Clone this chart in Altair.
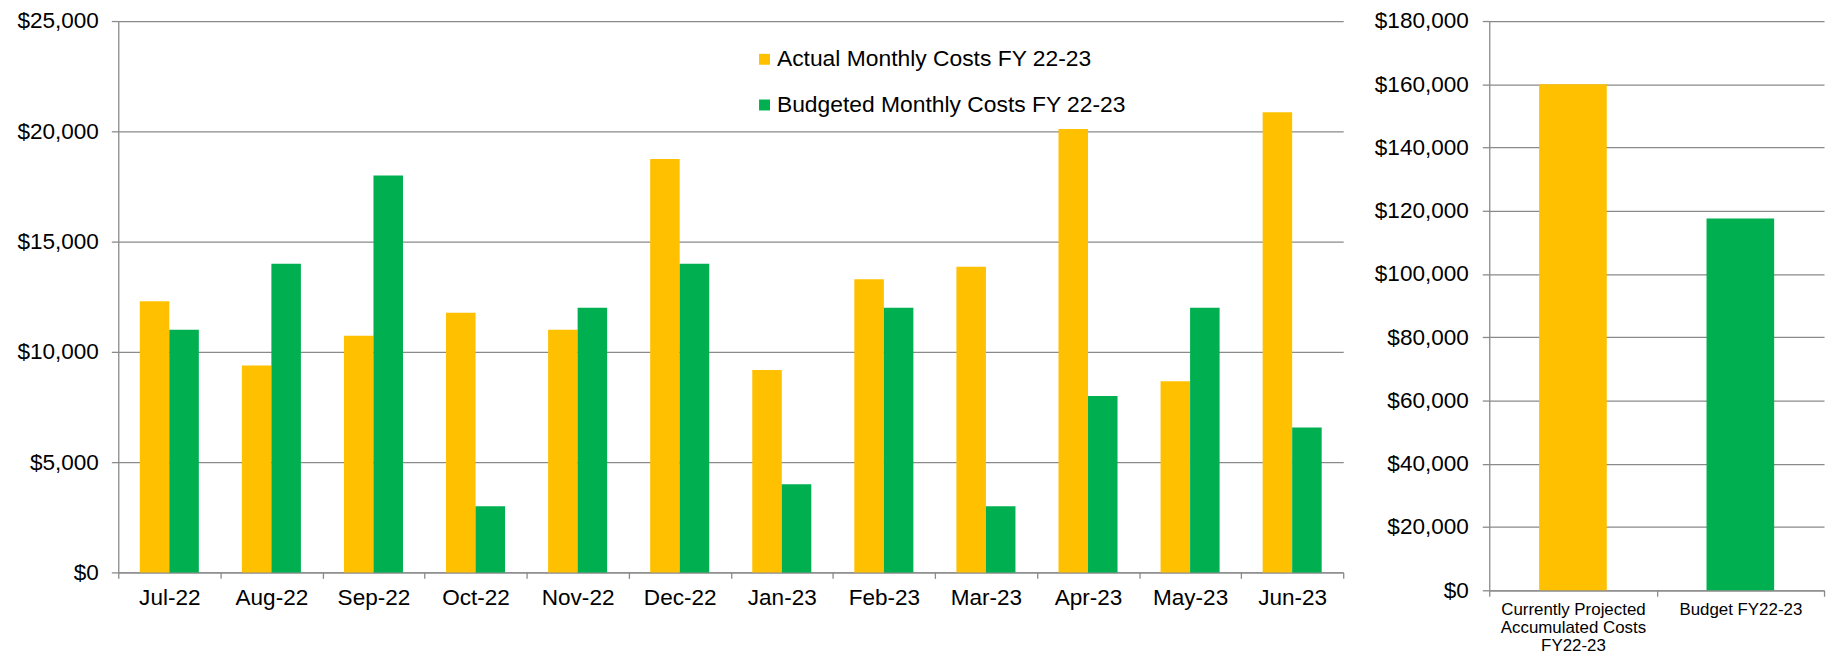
import altair as alt
import pandas as pd

months = ["Jul-22", "Aug-22", "Sep-22", "Oct-22", "Nov-22", "Dec-22",
          "Jan-23", "Feb-23", "Mar-23", "Apr-23", "May-23", "Jun-23"]
actual = [12300, 9380, 10730, 11770, 11000, 18750, 9180, 13290, 13860, 20100, 8670, 20860]
budget = [11000, 14000, 18000, 3000, 12000, 14000, 4000, 12000, 3000, 8000, 12000, 6570]
series_names = ["Actual Monthly Costs FY 22-23", "Budgeted Monthly Costs FY 22-23"]
left_ticks = [0, 5000, 10000, 15000, 20000, 25000]

summary_labels = ["Currently Projected\nAccumulated Costs\nFY22-23", "Budget FY22-23"]
summary_values = [160000, 117570]
right_ticks = [0, 20000, 40000, 60000, 80000, 100000, 120000, 140000, 160000, 180000]

colors = ["#FFC000", "#00B050"]
GRID = "#8a8a8a"
FONT = "Liberation Sans"
FS = 22.7

df = pd.DataFrame({
    "month": months * 2,
    "series": [series_names[0]] * len(months) + [series_names[1]] * len(months),
    "value": actual + budget,
})

left = alt.Chart(df).mark_bar().encode(
    x=alt.X("month:N", sort=months,
            scale=alt.Scale(paddingInner=0, paddingOuter=0),
            axis=alt.Axis(title=None, labelAngle=0, tickBand="extent", grid=False,
                          tickSize=6, labelPadding=8, labelFontSize=FS)),
    xOffset=alt.XOffset("series:N", sort=series_names,
                        scale=alt.Scale(paddingInner=0, paddingOuter=0.729)),
    y=alt.Y("value:Q", scale=alt.Scale(domain=[0, 25000], nice=False),
            axis=alt.Axis(title=None, values=left_ticks, format="$,.0f", grid=True,
                          tickSize=7, labelPadding=13, labelFontSize=FS)),
    color=alt.Color("series:N", sort=series_names,
                    scale=alt.Scale(domain=series_names, range=colors),
                    legend=alt.Legend(title=None, orient="none", legendX=639, legendY=27,
                                      direction="vertical", symbolType="square",
                                      symbolSize=121, symbolStrokeWidth=0,
                                      labelFontSize=23, labelFont=FONT, labelColor="#000",
                                      labelOffset=1, rowPadding=22, padding=0,
                                      labelLimit=600)),
).properties(width=1233, height=555)

df2 = pd.DataFrame({"item": summary_labels, "value": summary_values})

right = alt.Chart(df2).mark_bar(width=alt.RelativeBandSize(0.404)).encode(
    x=alt.X("item:N", sort=summary_labels,
            scale=alt.Scale(paddingInner=0, paddingOuter=0),
            axis=alt.Axis(title=None, labelAngle=0, tickBand="extent", grid=False,
                          tickSize=6, labelPadding=5, labelFontSize=17,
                          labelLineHeight=18.5, labelBaseline="top",
                          labelExpr="split(datum.label, '\\n')")),
    y=alt.Y("value:Q", scale=alt.Scale(domain=[0, 180000], nice=False),
            axis=alt.Axis(title=None, values=right_ticks, format="$,.0f", grid=True,
                          tickSize=7, labelPadding=14, labelFontSize=FS)),
    color=alt.Color("item:N", sort=summary_labels,
                    scale=alt.Scale(domain=summary_labels, range=colors), legend=None),
).properties(width=337, height=573)

chart = alt.hconcat(left, right, spacing=30).resolve_scale(
    color="independent"
).resolve_legend(color="independent").properties(
    padding={"left": 8, "top": 0, "right": 5, "bottom": 0}
).configure_view(stroke=None).configure_axis(
    labelFont=FONT, labelColor="#000", domainColor=GRID, tickColor=GRID,
    gridColor=GRID, domainWidth=1.3, tickWidth=1.3, gridWidth=1.3
)

chart.save("out.html", embed_options={"renderer": "svg", "actions": False})
